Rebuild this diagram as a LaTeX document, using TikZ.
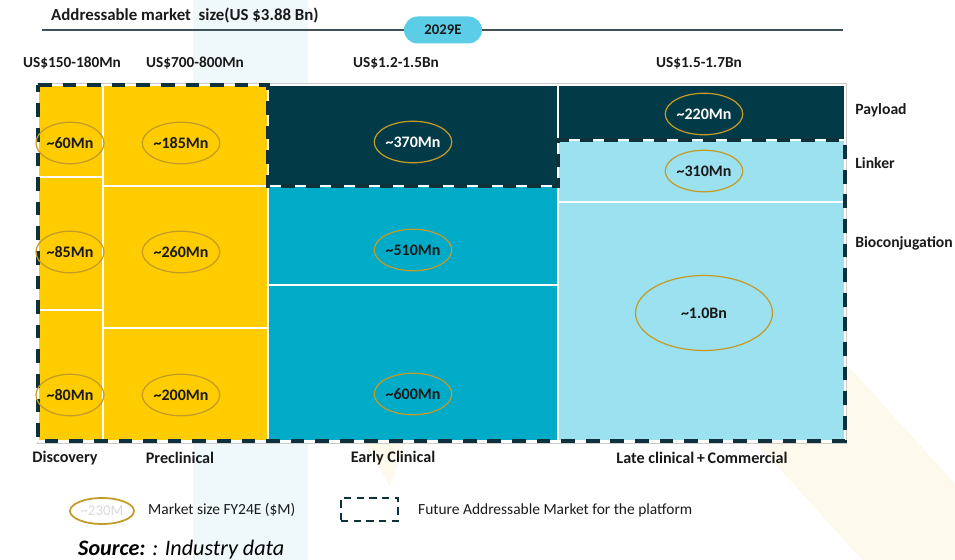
\documentclass[tikz,border=0pt]{standalone}
\usepackage{fontspec}
\setmainfont{Carlito}
\usetikzlibrary{shapes.geometric,positioning}
\definecolor{gold}{HTML}{FFCC00}
\definecolor{deepteal}{HTML}{023A47}
\definecolor{midcyan}{HTML}{00ABC8}
\definecolor{palecyan}{HTML}{9BE1F0}
\definecolor{ring}{HTML}{C39B26}
\definecolor{pillc}{HTML}{5CCDE6}
\definecolor{dashc}{HTML}{0E313B}
\definecolor{rulec}{HTML}{3F5259}
\definecolor{bandc}{HTML}{EFF8FB}
\definecolor{creamc}{HTML}{FDF9EC}
\definecolor{inkc}{HTML}{1A1A1A}
\newcommand\fsz[1]{\fontsize{#1}{#1}\selectfont}
\tikzset{font=\bfseries\fsz{8.7}}
\tikzstyle{cell}=[draw=white,line width=1.1pt]
\tikzstyle{mkt}=[ellipse,draw=ring,line width=0.7pt,inner sep=0pt,minimum width=1.48cm,minimum height=0.83cm,font=\bfseries\fsz{9.1}]
\tikzstyle{head}=[text=inkc,font=\bfseries\fsz{8.7}]
\tikzstyle{stage}=[text=inkc,font=\bfseries\fsz{9.2}]
\tikzstyle{part}=[text=inkc,font=\bfseries\fsz{8.9},anchor=west,inner sep=0pt]
\tikzstyle{note}=[text=inkc,font=\fsz{8.8},anchor=west]
\tikzstyle{famwhite}=[draw=white,line width=1.6pt]
\tikzstyle{famdash}=[draw=dashc,line width=2.2pt,dash pattern=on 7.8pt off 6.2pt]

\begin{document}
\begin{tikzpicture}[x=0.02cm,y=-0.02cm]
\useasboundingbox (0,0) rectangle (955,560);
\fill[bandc] (193,0) rectangle (308,560);
\draw[creamc,line width=2.4cm] (730,325) -- (975,595);
\fill[creamc] (365,443) -- (405,443) -- (390,487) -- cycle;
\draw[black!20,line width=0.5pt] (37,83) rectangle (846,443);

\filldraw[cell,fill=gold] (38,85) rectangle (103,177);
\filldraw[cell,fill=gold] (38,177) rectangle (103,310);
\filldraw[cell,fill=gold] (38,310) rectangle (103,441);
\filldraw[cell,fill=gold] (103,85) rectangle (268,186);
\filldraw[cell,fill=gold] (103,186) rectangle (268,328);
\filldraw[cell,fill=gold] (103,328) rectangle (268,441);
\filldraw[cell,fill=deepteal] (268,85) rectangle (558,186);
\filldraw[cell,fill=midcyan] (268,186) rectangle (558,285);
\filldraw[cell,fill=midcyan] (268,285) rectangle (558,441);
\filldraw[cell,fill=deepteal] (558,85) rectangle (845,140);
\filldraw[cell,fill=palecyan] (558,140) rectangle (845,202);
\filldraw[cell,fill=palecyan] (558,202) rectangle (845,441);

\draw[famwhite] (38,85) -- (268,85) -- (268,186) -- (558,186) -- (558,140) -- (845,140) -- (845,441) -- (38,441) -- cycle;
\draw[famdash] (38,85) -- (268,85) -- (268,186) -- (558,186) -- (558,140) -- (845,140) -- (845,441) -- (38,441) -- cycle;

\coordinate (L) at (42,30);
\coordinate (R) at (843,30);
\node[fill=pillc,rounded corners=0.27cm,minimum width=1.56cm,minimum height=0.54cm,inner sep=0pt,text=inkc,font=\bfseries\fsz{8.4}] (Y) at (443,30) {2029E};
\path[draw=rulec,line width=1pt]
(L) edge (Y)
(Y) edge (R);
\node[anchor=west,text=inkc,font=\bfseries\fsz{9.6}] (T) at (45,16) {Addressable market\ \ size(US \$3.88 Bn)};

\node[head] (H1) at (72,63) {US\$150-180Mn};
\node[head] (H2) at (195,63) {US\$700-800Mn};
\node[head] (H3) at (396,63) {US\$1.2-1.5Bn};
\node[head] (H4) at (699,63) {US\$1.5-1.7Bn};

\node[mkt,minimum width=1.36cm,text=inkc] (D1) at (70,143) {\textasciitilde60Mn};
\node[mkt,minimum width=1.36cm,text=inkc] (D2) at (70,252) {\textasciitilde85Mn};
\node[mkt,minimum width=1.36cm,text=inkc] (D3) at (70,395) {\textasciitilde80Mn};
\node[mkt,text=inkc] (P1) at (181,143) {\textasciitilde185Mn};
\node[mkt,text=inkc] (P2) at (181,252) {\textasciitilde260Mn};
\node[mkt,text=inkc] (P3) at (181,395) {\textasciitilde200Mn};
\node[mkt,text=white] (E1) at (413,142) {\textasciitilde370Mn};
\node[mkt,text=inkc] (E2) at (413,250) {\textasciitilde510Mn};
\node[mkt,text=inkc] (E3) at (413,394) {\textasciitilde600Mn};
\node[mkt,text=white] (C1) at (704,114) {\textasciitilde220Mn};
\node[mkt,text=inkc] (C2) at (704,171) {\textasciitilde310Mn};
\node[mkt,minimum width=2.74cm,minimum height=1.5cm,text=inkc] (C3) at (704,313) {\textasciitilde1.0Bn};

\node[part] (Pay) at (855,110) {Payload};
\node[part] (Lnk) at (855,163) {Linker};
\node[part] (Bio) at (855,243) {Bioconjugation};

\node[stage] (S1) at (65,458) {Discovery};
\node[stage] (S2) at (180,458) {Preclinical};
\node[stage] (S3) at (393,458) {Early Clinical};
\node[stage] (S4) at (702,458) {Late clinical\,+\,Commercial};

\node[mkt,minimum width=1.28cm,minimum height=0.52cm,line width=1pt,text=black!15,font=\fsz{8.5}] (K) at (102,511) {\textasciitilde230M};
\node[note] (KT) at (142,510) {Market size FY24E (\$M)};
\node[draw=dashc,line width=1.1pt,dash pattern=on 4.2pt off 3pt,minimum width=1.14cm,minimum height=0.46cm,inner sep=0pt] (Q) at (369.5,509.5) {};
\node[note] (QT) at (412,510) {Future Addressable Market for the platform};

\node[anchor=west,text=black,font=\fsz{12.6}] (Src) at (72,550) {{\bfseries\itshape Source:} {\mdseries\itshape : Industry data}};
\end{tikzpicture}
\end{document}
